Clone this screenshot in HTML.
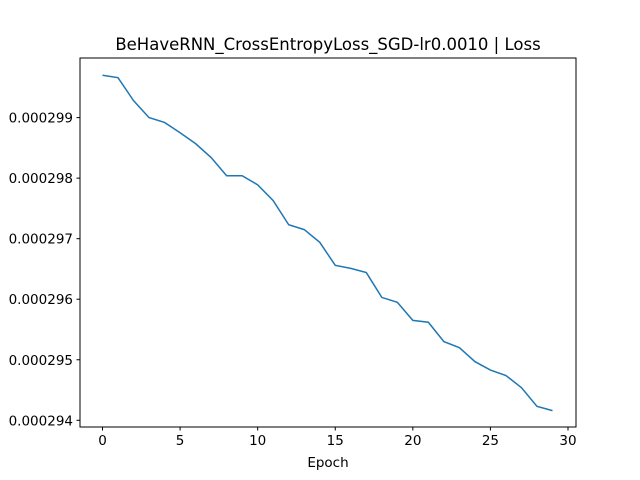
<!DOCTYPE html>
<html><head><meta charset="utf-8"><style>body{margin:0;background:#fff}svg{display:block}</style></head>
<body>
<svg width="640" height="480" viewBox="0 0 640 480" font-family="'DejaVu Sans','Liberation Sans',sans-serif">
<rect width="640" height="480" fill="#fff"/>
<text x="328" y="50" text-anchor="middle" font-size="16.5">BeHaveRNN_CrossEntropyLoss_SGD-lr0.0010 | Loss</text>
<g id="axes"></g>
<rect x="80" y="58" width="496" height="369" fill="none" stroke="#000" stroke-width="1"/>
<text x="328" y="467" text-anchor="middle" font-size="13.5">Epoch</text>
</svg>
<script>
const epochs=[0,1,2,3,4,5,6,7,8,9,10,11,12,13,14,15,16,17,18,19,20,21,22,23,24,25,26,27,28,29];
const lossValues=[0.0002997,0.00029966,0.00029928,0.0002990,0.00029892,0.00029875,0.00029857,0.00029834,0.00029804,0.00029804,0.00029789,0.00029763,0.00029723,0.00029715,0.00029694,0.00029656,0.00029651,0.00029644,0.00029603,0.00029595,0.00029565,0.00029562,0.0002953,0.0002952,0.00029497,0.00029483,0.00029474,0.00029454,0.00029423,0.00029416];
const xTicks=[0,5,10,15,20,25,30];
const yTicks=[0.000294,0.000295,0.000296,0.000297,0.000298,0.000299];
const yTickLabels=["0.000294","0.000295","0.000296","0.000297","0.000298","0.000299"];
const NS="http://www.w3.org/2000/svg";
const g=document.getElementById('axes');
function xs(v){return 102.5+v*(568-102.5)/30;}
function ys(v){return 420.3-(v-0.000294)/0.000005*(420.3-117.6);}
function mk(t,a){const e=document.createElementNS(NS,t);for(const k in a)e.setAttribute(k,a[k]);g.appendChild(e);return e;}
xTicks.forEach(t=>{
  const l=mk('line',{x1:xs(t),x2:xs(t),y1:427,y2:430.5,stroke:'#000'});
  
  
  const tx=mk('text',{x:xs(t),y:445,'text-anchor':'middle','font-size':'13.5'});
  tx.textContent=t;
  
  
});
yTicks.forEach((t,i)=>{
  const l=mk('line',{x1:76.5,x2:80,y1:ys(t),y2:ys(t),stroke:'#000'});
  
  
  const tx=mk('text',{x:73,y:ys(t)+5,'text-anchor':'end','font-size':'13.5'});
  tx.textContent=yTickLabels[i];
  
  
});
const p=mk('polyline',{points:epochs.map((e,i)=>xs(e)+','+ys(lossValues[i])).join(' '),fill:'none',stroke:'#1f77b4','stroke-width':1.5});


</script>
</body></html>
